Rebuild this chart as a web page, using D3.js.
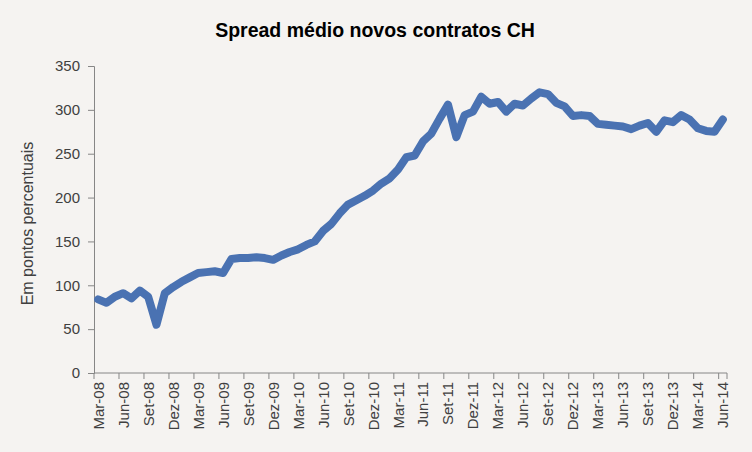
<!DOCTYPE html>
<html>
<head>
<meta charset="utf-8">
<script src="https://cdnjs.cloudflare.com/ajax/libs/d3/7.8.5/d3.min.js"></script>
<style>
  body { margin: 0; background: #f5f3f1; }
  svg { display: block; }
</style>
</head>
<body>
<div id="chart"></div>
<script>
// Months from Mar-08 to Jun-14
var monthNames = ["Jan", "Fev", "Mar", "Abr", "Mai", "Jun", "Jul", "Ago", "Set", "Out", "Nov", "Dez"];
var months = [];
for (var y = 2008; y <= 2014; y++) {
    for (var m = 0; m < 12; m++) {
        if (y == 2008 && m < 2) continue;
        if (y == 2014 && m > 5) continue;
        months.push(monthNames[m] + "-" + String(y).slice(2));
    }
}

// Spread values (basis points)
var spread = [
    84, 80, 87, 91, 85, 94, 87, 55, 91, 98,
    104, 109, 114, 115, 116, 114, 130, 131, 131, 132,
    131, 129, 134, 138, 141, 146, 150, 162, 170, 182,
    192, 197, 202, 208, 216, 222, 232, 246, 248, 264,
    273, 290, 306, 269, 294, 298, 315, 307, 309, 298,
    307, 305, 313, 320, 318, 308, 304, 293, 294, 293,
    284, 283, 282, 281, 278, 282, 285, 275, 288, 286,
    294, 289, 279, 276, 275, 289
];

var yTicks = [0, 50, 100, 150, 200, 250, 300, 350];

var width = 752, height = 452;
var margin = {top: 66, right: 25, bottom: 79, left: 94};
var font = "'Liberation Sans', Arial, sans-serif";

var svg = d3.select("#chart").append("svg")
    .attr("width", width)
    .attr("height", height);

svg.append("rect")
    .attr("width", width)
    .attr("height", height)
    .attr("fill", "#f5f3f1");

var x = d3.scaleBand()
    .domain(months)
    .range([margin.left, width - margin.right])
    .padding(0);

var yScale = d3.scaleLinear()
    .domain([0, 350])
    .range([height - margin.bottom, margin.top]);

// Title
svg.append("text")
    .attr("x", 375)
    .attr("y", 37)
    .attr("text-anchor", "middle")
    .style("font-family", font)
    .style("font-weight", "bold")
    .style("font-size", "19.5px")
    .attr("fill", "#000")
    .text("Spread médio novos contratos CH");

// Y axis
var yAxis = svg.append("g")
    .attr("transform", "translate(" + margin.left + ",0)")
    .call(d3.axisLeft(yScale).tickValues(yTicks).tickSize(6).tickPadding(8));

yAxis.select(".domain").attr("stroke", "#868686");
yAxis.selectAll(".tick line").attr("stroke", "#868686");
yAxis.selectAll(".tick text")
    .style("font-family", font)
    .style("font-size", "15px")
    .attr("fill", "#404040");

svg.append("text")
    .attr("transform", "translate(33," + ((margin.top + height - margin.bottom) / 2 + 4) + ")rotate(-90)")
    .attr("text-anchor", "middle")
    .style("font-family", font)
    .style("font-size", "16px")
    .attr("fill", "#404040")
    .text("Em pontos percentuais");

// X axis: ticks at category boundaries every 3 months, labels at centres
var xAxisG = svg.append("g")
    .attr("transform", "translate(0," + (height - margin.bottom) + ")");

xAxisG.append("line")
    .attr("x1", margin.left)
    .attr("x2", width - margin.right)
    .attr("stroke", "#868686");

var tickIdx = d3.range(0, months.length + 1, 3);
if (tickIdx[tickIdx.length - 1] != months.length) tickIdx.push(months.length);

xAxisG.selectAll(".xtick")
    .data(tickIdx)
    .enter()
    .append("line")
    .attr("class", "xtick")
    .attr("x1", function(d) { return margin.left + d * x.bandwidth(); })
    .attr("x2", function(d) { return margin.left + d * x.bandwidth(); })
    .attr("y1", 0)
    .attr("y2", 6)
    .attr("stroke", "#868686");

var labelMonths = months.filter(function(d, i) { return i % 3 == 0; });

xAxisG.selectAll(".xlabel")
    .data(labelMonths)
    .enter()
    .append("text")
    .attr("class", "xlabel")
    .attr("transform", function(d) {
        return "translate(" + (x(d) + x.bandwidth() / 2 + 5.5) + ",9)rotate(-90)";
    })
    .attr("text-anchor", "end")
    .style("font-family", font)
    .style("font-size", "15px")
    .attr("fill", "#404040")
    .text(function(d) { return d; });

// Line
var line = d3.line()
    .x(function(d, i) { return x(months[i]) + x.bandwidth() / 2; })
    .y(function(d) { return yScale(d); });

svg.append("path")
    .datum(spread)
    .attr("fill", "none")
    .attr("stroke", "#4a72b2")
    .attr("stroke-width", 8)
    .attr("stroke-linejoin", "round")
    .attr("stroke-linecap", "round")
    .attr("d", line);
</script>
</body>
</html>
